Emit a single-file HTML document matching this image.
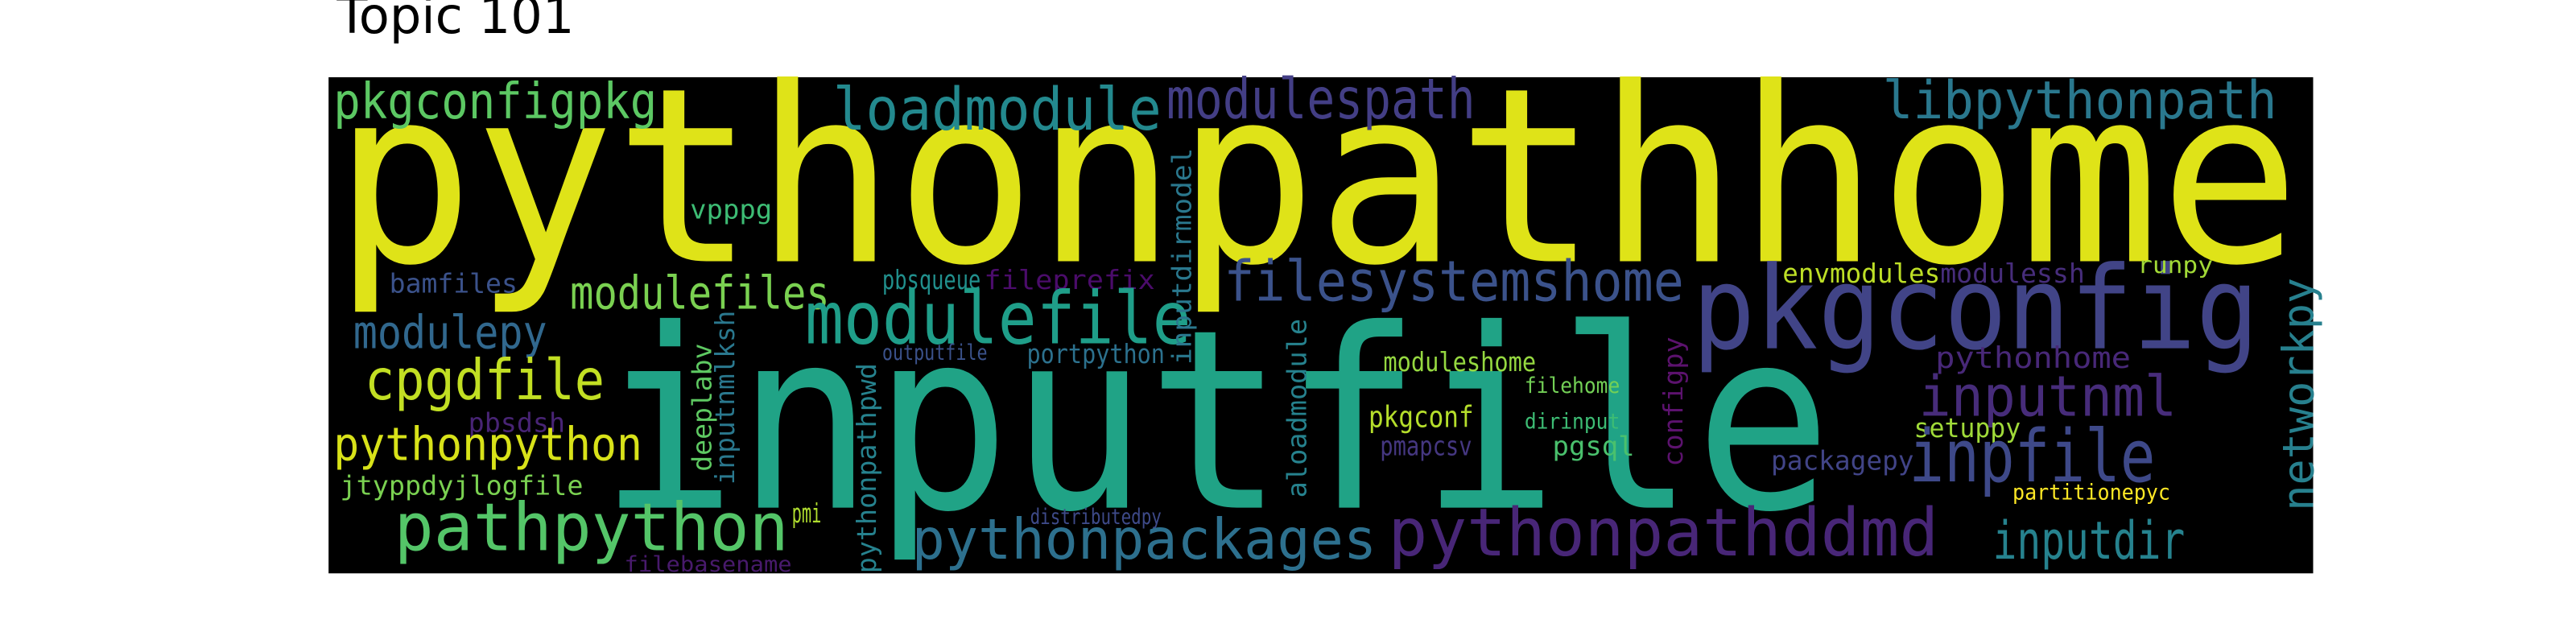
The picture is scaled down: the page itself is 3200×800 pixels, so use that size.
<!DOCTYPE html>
<html><head><meta charset="utf-8"><style>
html,body{margin:0;padding:0;background:#fff;width:3200px;height:800px;overflow:hidden}
svg{display:block}
text.w{font-family:"DejaVu Sans Mono","Liberation Mono",monospace}
</style></head><body>
<svg width="3200" height="800" viewBox="0 0 1568 392" xmlns="http://www.w3.org/2000/svg">
<text x="205" y="20" font-family="DejaVu Sans, Liberation Sans, sans-serif" font-size="30.5" fill="#000">Topic 101</text>
<rect x="200" y="47" width="1208" height="302" fill="#000"/>
<g>
<text class="w" x="203" y="159" font-size="148" textLength="1197" lengthAdjust="spacingAndGlyphs" fill="#dfe318">pythonpathhome</text>
<text class="w" x="365" y="309" font-size="152" textLength="750" lengthAdjust="spacingAndGlyphs" fill="#20a386">inputfile</text>
<text class="w" x="1030" y="212" font-size="70" textLength="345" lengthAdjust="spacingAndGlyphs" fill="#414487">pkgconfig</text>
<text class="w" x="203" y="72" font-size="30" textLength="197" lengthAdjust="spacingAndGlyphs" fill="#5cc863">pkgconfigpkg</text>
<text class="w" x="507" y="79" font-size="36" textLength="200" lengthAdjust="spacingAndGlyphs" fill="#23898e">loadmodule</text>
<text class="w" x="710" y="72" font-size="34" textLength="188" lengthAdjust="spacingAndGlyphs" fill="#433e85">modulespath</text>
<text class="w" x="1146" y="72" font-size="32" textLength="240" lengthAdjust="spacingAndGlyphs" fill="#2a788e">libpythonpath</text>
<text class="w" x="420" y="133" font-size="16" textLength="50" lengthAdjust="spacingAndGlyphs" fill="#3dbc74">vpppg</text>
<text class="w" x="537" y="176" font-size="16" textLength="60" lengthAdjust="spacingAndGlyphs" fill="#21908d">pbsqueue</text>
<text class="w" x="599" y="176" font-size="16" textLength="104" lengthAdjust="spacingAndGlyphs" fill="#4b0c6b">fileprefix</text>
<text class="w" x="745" y="183" font-size="34" textLength="280" lengthAdjust="spacingAndGlyphs" fill="#3b528b">filesystemshome</text>
<text class="w" x="1085" y="172" font-size="16" textLength="96" lengthAdjust="spacingAndGlyphs" fill="#bddf26">envmodules</text>
<text class="w" x="1181" y="172" font-size="16" textLength="88" lengthAdjust="spacingAndGlyphs" fill="#472d7b">modulessh</text>
<text class="w" x="1301" y="166" font-size="14" textLength="46" lengthAdjust="spacingAndGlyphs" fill="#a2da37">runpy</text>
<text class="w" x="237" y="178" font-size="16" textLength="78" lengthAdjust="spacingAndGlyphs" fill="#3b528b">bamfiles</text>
<text class="w" x="347" y="188" font-size="28" textLength="158" lengthAdjust="spacingAndGlyphs" fill="#7ad151">modulefiles</text>
<text class="w" x="490" y="209" font-size="44" textLength="235" lengthAdjust="spacingAndGlyphs" fill="#1f9e89">modulefile</text>
<text class="w" x="215" y="212" font-size="28" textLength="118" lengthAdjust="spacingAndGlyphs" fill="#31688e">modulepy</text>
<text class="w" x="222" y="243" font-size="34" textLength="146" lengthAdjust="spacingAndGlyphs" fill="#c2df23">cpgdfile</text>
<text class="w" x="1178" y="224" font-size="18" textLength="119" lengthAdjust="spacingAndGlyphs" fill="#482878">pythonhome</text>
<text class="w" x="1168" y="253" font-size="34" textLength="157" lengthAdjust="spacingAndGlyphs" fill="#472c7a">inputnml</text>
<text class="w" x="842" y="226" font-size="16" textLength="93" lengthAdjust="spacingAndGlyphs" fill="#95d840">moduleshome</text>
<text class="w" x="625" y="221" font-size="16" textLength="84" lengthAdjust="spacingAndGlyphs" fill="#2c718e">portpython</text>
<text class="w" x="537" y="219" font-size="13" textLength="64" lengthAdjust="spacingAndGlyphs" fill="#3b528b">outputfile</text>
<text class="w" x="928" y="239" font-size="13" textLength="58" lengthAdjust="spacingAndGlyphs" fill="#73d056">filehome</text>
<text class="w" x="285" y="263" font-size="16" textLength="59" lengthAdjust="spacingAndGlyphs" fill="#482475">pbsdsh</text>
<text class="w" x="203" y="280" font-size="28" textLength="188" lengthAdjust="spacingAndGlyphs" fill="#d8e219">pythonpython</text>
<text class="w" x="833" y="260" font-size="18" textLength="64" lengthAdjust="spacingAndGlyphs" fill="#b5de2b">pkgconf</text>
<text class="w" x="928" y="261" font-size="13" textLength="58" lengthAdjust="spacingAndGlyphs" fill="#3dbc74">dirinput</text>
<text class="w" x="840" y="277" font-size="16" textLength="56" lengthAdjust="spacingAndGlyphs" fill="#453781">pmapcsv</text>
<text class="w" x="945" y="277" font-size="16" textLength="50" lengthAdjust="spacingAndGlyphs" fill="#4ac16d">pgsql</text>
<text class="w" x="1165" y="266" font-size="16" textLength="65" lengthAdjust="spacingAndGlyphs" fill="#a0da39">setuppy</text>
<text class="w" x="1162" y="293" font-size="44" textLength="150" lengthAdjust="spacingAndGlyphs" fill="#3e4989">inpfile</text>
<text class="w" x="1078" y="286" font-size="16" textLength="87" lengthAdjust="spacingAndGlyphs" fill="#414487">packagepy</text>
<text class="w" x="207" y="301" font-size="16" textLength="148" lengthAdjust="spacingAndGlyphs" fill="#7ad151">jtyppdyjlogfile</text>
<text class="w" x="1225" y="304" font-size="13" textLength="96" lengthAdjust="spacingAndGlyphs" fill="#fde725">partitionepyc</text>
<text class="w" x="240" y="335" font-size="40" textLength="240" lengthAdjust="spacingAndGlyphs" fill="#54c568">pathpython</text>
<text class="w" x="482" y="318" font-size="16" textLength="18" lengthAdjust="spacingAndGlyphs" fill="#b0dd2f">pmi</text>
<text class="w" x="627" y="319" font-size="13" textLength="80" lengthAdjust="spacingAndGlyphs" fill="#3e4a89">distributedpy</text>
<text class="w" x="555" y="340" font-size="34" textLength="283" lengthAdjust="spacingAndGlyphs" fill="#2d708e">pythonpackages</text>
<text class="w" x="845" y="338" font-size="40" textLength="335" lengthAdjust="spacingAndGlyphs" fill="#482677">pythonpathddmd</text>
<text class="w" x="1213" y="340" font-size="32" textLength="117" lengthAdjust="spacingAndGlyphs" fill="#26828e">inputdir</text>
<text class="w" x="380" y="348" font-size="13" textLength="102" lengthAdjust="spacingAndGlyphs" fill="#481a6c">filebasename</text>
<text class="w" transform="translate(725,222) rotate(-90)" font-size="16" textLength="132" lengthAdjust="spacingAndGlyphs" fill="#2a788e">inputdirmodel</text>
<text class="w" transform="translate(1408,311) rotate(-90)" font-size="26" textLength="142" lengthAdjust="spacingAndGlyphs" fill="#27808e">networkpy</text>
<text class="w" transform="translate(1024,284) rotate(-90)" font-size="16" textLength="79" lengthAdjust="spacingAndGlyphs" fill="#5c126e">configpy</text>
<text class="w" transform="translate(795,303) rotate(-90)" font-size="16" textLength="109" lengthAdjust="spacingAndGlyphs" fill="#26828e">aloadmodule</text>
<text class="w" transform="translate(433,287) rotate(-90)" font-size="16" textLength="78" lengthAdjust="spacingAndGlyphs" fill="#5ec962">deeplabv</text>
<text class="w" transform="translate(447,295) rotate(-90)" font-size="16" textLength="106" lengthAdjust="spacingAndGlyphs" fill="#2a788e">inputnmlksh</text>
<text class="w" transform="translate(533,349) rotate(-90)" font-size="16" textLength="128" lengthAdjust="spacingAndGlyphs" fill="#26828e">pythonpathpwd</text>
</g>
</svg>
</body></html>
